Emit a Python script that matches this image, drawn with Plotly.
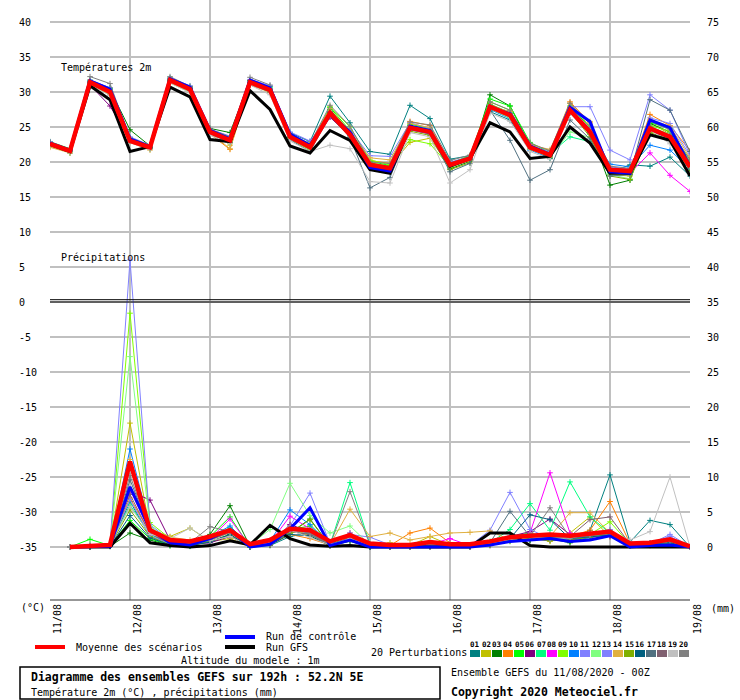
import plotly.graph_objects as go

# time axis (hours from 11/08 00Z)
hours_t = list(range(0, 193, 6))
hours_p = list(range(6, 193, 6))
day_hours = list(range(0, 193, 24))
day_labels = ["11/08", "12/08", "13/08", "14/08", "15/08", "16/08", "17/08", "18/08", "19/08"]

member_names = ["01", "02", "03", "04", "05", "06", "07", "08", "09", "10",
                "11", "12", "13", "14", "15", "16", "17", "18", "19", "20"]
member_colors = ["#008080", "#c0c000", "#008000", "#ff8000", "#00ff00", "#800080", "#00ff80",
                 "#ff00ff", "#80ff00", "#0080ff", "#8080ff", "#80ff80", "#8080ff", "#e0b040",
                 "#80b000", "#006080", "#507080", "#806070", "#c0c0c0", "#808080"]

# temperatures 2m (degC)
temp_mean = [22.6, 21.6, 31.4, 30.0, 23.0, 22.1, 31.7, 30.4, 24.3, 23.1, 31.4, 30.3, 23.6, 22.1, 27.0, 23.9,
             19.6, 19.1, 24.9, 24.3, 19.6, 20.5, 27.9, 26.7, 22.1, 21.0, 27.4, 24.3, 18.9, 18.7, 24.8, 23.6, 19.3]
temp_ctrl = [22.7, 21.7, 31.6, 30.4, 23.3, 22.2, 31.9, 30.7, 24.5, 23.3, 31.7, 30.6, 24.0, 22.4, 26.8, 24.3,
             19.2, 18.7, 25.1, 24.5, 19.5, 20.6, 27.8, 26.9, 22.3, 21.1, 27.8, 25.8, 18.6, 18.4, 26.0, 24.9, 19.4]
temp_gfs = [22.5, 21.5, 30.9, 28.9, 21.5, 22.2, 30.7, 29.3, 23.2, 22.9, 30.2, 27.5, 22.3, 21.3, 24.5, 23.1,
            18.9, 18.4, 25.0, 24.3, 19.4, 20.5, 25.6, 24.3, 20.5, 20.8, 25.0, 22.7, 18.4, 18.4, 23.9, 23.1, 18.0]
temp_members = [
    [22.8, 21.7, 31.6, 30.6, 23.5, 22.3, 31.9, 30.7, 24.6, 23.4, 31.6, 30.8, 24.2, 22.9, 29.4, 25.6,
     21.5, 21.1, 28.1, 26.2, 20.4, 20.9, 27.2, 26.0, 21.8, 21.2, 27.0, 24.0, 18.5, 19.6, 19.4, 20.7, 18.0],
    [22.4, 21.5, 31.2, 29.8, 23.2, 22.0, 31.5, 30.2, 24.6, 22.4, 31.2, 30.0, 23.4, 22.0, 26.5, 24.2,
     19.9, 19.4, 22.8, 23.4, 19.2, 20.3, 27.6, 26.4, 22.3, 21.3, 28.4, 25.0, 18.2, 18.0, 25.6, 24.0, 19.6],
    [22.7, 21.3, 31.3, 30.4, 24.6, 22.3, 31.8, 30.6, 24.8, 24.2, 31.6, 30.5, 24.0, 22.2, 27.5, 24.3,
     19.9, 19.0, 25.2, 24.6, 19.0, 20.1, 29.6, 28.0, 22.4, 20.5, 27.6, 24.6, 16.7, 17.4, 25.5, 24.3, 19.0],
    [22.2, 21.4, 31.0, 29.7, 23.1, 21.9, 31.4, 30.2, 24.0, 21.8, 31.0, 30.1, 23.8, 22.3, 27.1, 24.0,
     20.2, 19.8, 25.8, 25.2, 19.7, 20.6, 28.3, 27.0, 22.6, 21.6, 28.6, 25.6, 19.1, 18.8, 26.8, 25.2, 21.6],
    [22.9, 21.9, 31.7, 30.5, 23.4, 22.4, 32.0, 30.8, 24.5, 23.6, 31.7, 30.6, 23.8, 22.4, 27.8, 24.5,
     20.1, 19.5, 25.4, 24.8, 19.8, 20.9, 29.0, 28.0, 22.8, 21.3, 28.0, 24.9, 18.5, 18.4, 25.6, 24.8, 20.0],
    [22.8, 21.7, 31.0, 28.0, 23.2, 22.0, 31.5, 30.3, 24.0, 23.0, 31.0, 30.1, 23.5, 21.9, 26.4, 23.7,
     19.2, 18.8, 24.7, 24.1, 19.5, 20.4, 27.7, 26.5, 22.0, 20.8, 27.1, 24.3, 18.6, 18.5, 24.5, 23.3, 19.0],
    [22.5, 21.6, 31.6, 30.4, 23.3, 22.2, 31.6, 30.5, 24.4, 23.2, 31.5, 30.4, 23.7, 22.3, 27.3, 24.1,
     19.7, 19.3, 25.1, 24.5, 19.9, 20.8, 28.2, 27.1, 22.3, 21.2, 23.6, 22.9, 18.4, 18.6, 24.6, 23.8, 19.4],
    [22.6, 21.6, 31.5, 30.2, 23.1, 22.1, 31.8, 30.5, 24.2, 23.0, 31.5, 30.2, 23.5, 22.0, 26.6, 23.8,
     19.4, 19.0, 24.6, 24.0, 19.7, 20.4, 27.9, 26.8, 21.9, 20.9, 27.3, 24.2, 18.8, 18.4, 21.3, 18.1, 15.8],
    [22.3, 21.4, 31.1, 29.6, 23.0, 21.8, 31.3, 30.0, 24.2, 22.7, 31.2, 30.0, 23.3, 21.7, 27.9, 25.0,
     20.3, 19.6, 23.2, 22.6, 19.3, 20.4, 28.6, 27.4, 22.0, 20.9, 27.7, 24.5, 18.7, 18.2, 25.2, 24.4, 20.4],
    [22.7, 21.8, 31.5, 30.1, 23.0, 22.0, 31.6, 30.3, 24.3, 23.2, 31.3, 30.2, 23.6, 22.0, 26.9, 23.8,
     19.3, 18.8, 24.7, 24.2, 19.6, 20.5, 27.5, 26.2, 21.7, 20.6, 27.2, 24.2, 19.7, 19.3, 22.4, 21.7, 19.0],
    [22.9, 21.8, 31.7, 30.6, 23.6, 22.4, 32.0, 30.9, 24.7, 23.7, 31.8, 30.9, 24.3, 23.0, 26.7, 24.6,
     20.9, 20.8, 25.6, 24.8, 19.8, 20.6, 27.8, 26.6, 22.2, 21.1, 27.9, 27.9, 21.7, 20.3, 29.6, 27.4, 21.0],
    [22.4, 21.5, 31.3, 29.9, 22.9, 22.0, 31.5, 30.2, 24.1, 23.0, 31.3, 30.1, 23.4, 21.9, 26.8, 23.6,
     19.4, 18.9, 24.8, 24.2, 19.4, 20.2, 27.6, 26.3, 21.8, 20.7, 24.3, 23.5, 18.2, 17.6, 25.0, 24.0, 19.8],
    [22.6, 21.7, 31.5, 30.2, 23.2, 22.2, 31.8, 30.6, 24.4, 23.3, 31.5, 30.5, 23.8, 22.3, 27.2, 24.0,
     19.8, 19.2, 25.0, 24.4, 20.0, 20.7, 28.1, 26.9, 22.4, 21.4, 27.6, 24.8, 19.3, 19.0, 26.3, 25.5, 20.9],
    [22.1, 21.3, 31.2, 29.7, 22.8, 21.7, 31.4, 30.1, 24.2, 21.9, 31.1, 29.9, 23.9, 22.6, 27.6, 24.4,
     20.6, 20.3, 25.5, 24.9, 19.4, 20.2, 28.0, 27.2, 22.4, 21.8, 27.9, 25.8, 18.6, 18.3, 26.0, 25.1, 20.6],
    [22.5, 21.5, 31.3, 29.9, 23.0, 22.0, 31.6, 30.3, 24.3, 23.0, 31.3, 30.2, 23.5, 22.0, 26.9, 23.9,
     19.5, 19.0, 24.4, 23.8, 18.9, 19.9, 28.1, 26.9, 22.0, 20.7, 27.2, 23.6, 18.0, 17.5, 24.2, 23.2, 18.8],
    [22.6, 21.6, 31.4, 30.1, 23.1, 22.1, 31.7, 30.5, 24.4, 23.2, 31.4, 30.3, 23.6, 22.1, 27.1, 24.0,
     19.4, 19.0, 24.9, 24.4, 19.4, 20.3, 27.9, 26.8, 22.2, 21.0, 27.7, 24.5, 18.8, 18.5, 24.9, 23.7, 19.2],
    [22.5, 21.5, 31.3, 29.9, 23.0, 21.9, 31.5, 30.2, 24.0, 22.8, 31.2, 30.0, 23.2, 21.5, 26.6, 23.5,
     16.3, 17.8, 24.6, 24.0, 18.6, 19.8, 27.4, 23.1, 17.4, 18.9, 26.0, 23.3, 18.0, 18.2, 28.9, 27.4, 21.5],
    [22.7, 21.7, 31.5, 30.3, 23.2, 22.2, 31.8, 30.6, 24.5, 23.4, 31.6, 30.4, 23.7, 22.2, 27.2, 24.0,
     19.6, 19.2, 25.0, 24.3, 19.9, 20.6, 28.0, 26.8, 22.2, 21.1, 27.6, 24.6, 19.1, 18.9, 25.1, 23.8, 19.6],
    [22.3, 21.4, 31.1, 29.5, 22.8, 21.8, 31.3, 29.9, 23.8, 22.6, 31.0, 29.6, 23.0, 21.5, 22.4, 21.9,
     17.2, 17.0, 24.2, 23.6, 17.0, 18.9, 27.0, 25.8, 21.5, 20.4, 27.0, 24.5, 18.8, 19.0, 24.6, 22.6, 19.3],
    [22.8, 21.8, 32.2, 31.2, 23.4, 22.4, 32.2, 30.8, 24.7, 23.6, 32.1, 31.0, 23.9, 22.6, 28.1, 25.1,
     20.0, 19.8, 25.7, 25.3, 20.2, 21.0, 28.6, 27.4, 22.7, 21.6, 28.4, 25.4, 19.4, 19.1, 25.8, 24.6, 20.3],
]

# precipitation per 6h (mm)
precip_mean = [0.0, 0.2, 0.3, 12.2, 2.4, 1.0, 0.8, 1.5, 2.4, 0.4, 1.0, 2.6, 2.4, 0.8, 1.7, 0.5,
               0.3, 0.3, 0.7, 0.4, 0.4, 0.8, 1.4, 1.6, 1.8, 1.6, 1.9, 2.2, 0.5, 0.6, 1.1, 0.1]
precip_ctrl = [0, 0, 0.1, 8.6, 2.5, 0.6, 0.3, 1.2, 2.5, 0, 0.4, 2.6, 5.6, 0.2, 1.0, 0,
               0, 0, 0, 0, 0, 0.3, 0.8, 1.0, 1.2, 0.8, 1.0, 1.6, 0, 0.2, 0.3, 0]
precip_gfs = [0, 0, 0, 3.4, 0.6, 0.2, 0, 0.2, 0.9, 0.3, 3.1, 1.2, 0.3, 0.1, 0.2, 0,
              0, 0, 0, 0, 0, 2.0, 2.0, 0.2, 0, 0, 0, 0, 0, 0, 0, 0]
precip_members = [
    [0, 0, 0.1, 6.5, 1.5, 0.3, 0.2, 0.8, 1.8, 0, 0.2, 1.5, 2.0, 0.3, 1.0, 0,
     0, 0, 0.3, 0.2, 0, 0.5, 1.2, 1.0, 1.5, 0.8, 2.4, 10.3, 0.7, 3.8, 3.2, 0],
    [0, 0.2, 0.3, 17.7, 2.5, 1.5, 2.7, 0.8, 1.2, 0, 0.3, 3.0, 1.5, 0.2, 1.5, 0.3,
     0.6, 0.2, 1.5, 0.3, 0.2, 0.3, 1.0, 1.4, 0.8, 2.0, 4.3, 1.5, 0.2, 0.3, 0.6, 0],
    [0, 0, 0.1, 2.0, 1.0, 0.2, 0.3, 1.8, 5.9, 0.1, 0.5, 2.0, 4.0, 0.2, 0.8, 0,
     0, 0, 0.2, 0, 0, 0.3, 0.8, 1.0, 1.2, 0.6, 1.5, 1.8, 0.2, 0.4, 0.7, 0],
    [0, 0.3, 0.2, 7.0, 2.0, 0.5, 0.5, 1.0, 2.5, 0.2, 0.3, 1.8, 1.2, 0.3, 1.0, 0.1,
     0.2, 2.0, 2.7, 0.6, 0.1, 0.4, 1.2, 1.8, 1.0, 1.5, 2.4, 6.5, 0.5, 0.2, 0.4, 0],
    [0, 1.1, 0.2, 3.8, 1.2, 0.2, 0.1, 1.5, 4.3, 0, 0.4, 2.5, 3.0, 0.5, 1.2, 0.1,
     0, 0, 0, 0.2, 0, 0.8, 1.5, 2.0, 1.3, 0.9, 1.6, 2.4, 0.3, 0.5, 0.8, 0],
    [0, 0, 0.1, 8.0, 6.7, 1.0, 0.4, 0.6, 1.5, 0.2, 0.4, 3.2, 2.2, 0.4, 2.0, 0.2,
     0, 0, 0, 0.1, 0, 0.2, 1.5, 2.2, 4.0, 1.8, 2.0, 1.5, 0.4, 0.3, 0.6, 0],
    [0, 0, 0.2, 6.0, 1.8, 0.4, 0.2, 0.9, 2.8, 0, 0.6, 2.2, 1.8, 0.3, 9.2, 0.4,
     0.1, 0, 0.3, 0.2, 0, 0.6, 2.5, 6.2, 2.4, 9.3, 4.3, 2.0, 0.2, 0.4, 0.5, 0],
    [0, 0.1, 0.2, 8.2, 2.2, 0.5, 0.4, 1.2, 4.0, 0.1, 0.6, 4.4, 2.6, 0.2, 1.4, 0.2,
     0.1, 0, 0.4, 1.2, 0.2, 0.5, 1.0, 2.0, 10.6, 2.0, 1.4, 1.6, 0.3, 0.5, 0.8, 0],
    [0, 0.2, 0.3, 33.4, 3.5, 1.2, 0.5, 1.1, 2.6, 0.2, 0.4, 2.0, 2.5, 0.3, 1.3, 0.1,
     0, 0, 0.5, 0.3, 0.1, 0.4, 1.3, 1.8, 1.5, 1.2, 1.8, 3.6, 0.4, 0.5, 0.9, 0],
    [0, 0.1, 0.3, 14.0, 2.8, 0.8, 0.3, 1.4, 3.0, 0.1, 0.8, 5.3, 3.2, 0.4, 1.1, 0.1,
     0, 0, 0.2, 0.2, 0, 0.5, 1.4, 1.5, 1.1, 1.0, 1.3, 2.0, 0.3, 0.4, 0.7, 0],
    [0, 0.3, 0.4, 41.0, 3.2, 1.0, 0.5, 1.3, 2.4, 0.2, 0.7, 3.0, 7.7, 0.5, 1.8, 1.4,
     0.3, 0.1, 0.4, 0.3, 0.2, 2.4, 7.8, 2.5, 1.2, 1.4, 1.8, 2.0, 0.4, 0.6, 1.5, 0],
    [0, 0.2, 0.3, 27.2, 3.0, 0.9, 0.4, 1.0, 2.2, 0.3, 2.5, 9.1, 4.5, 2.0, 3.0, 0.3,
     0.1, 0, 0.3, 0.4, 0.2, 0.3, 1.0, 1.6, 1.4, 1.2, 1.5, 1.7, 0.2, 0.3, 0.6, 0],
    [0, 0.1, 0.2, 6.8, 1.6, 0.5, 0.3, 1.3, 2.0, 0.1, 0.5, 2.4, 2.0, 0.3, 1.0, 0.2,
     0, 0, 0.2, 0.1, 0, 0.5, 1.6, 1.3, 1.0, 1.1, 1.5, 2.5, 0.5, 0.4, 1.8, 0],
    [0, 0.1, 0.3, 12.5, 2.6, 1.4, 1.0, 1.0, 2.0, 0.1, 0.4, 2.8, 1.6, 0.3, 5.4, 1.5,
     2.0, 1.0, 1.5, 2.0, 2.1, 2.3, 1.0, 1.3, 1.5, 4.9, 4.9, 2.0, 0.3, 0.4, 0.7, 0],
    [0, 0, 0.2, 5.3, 1.5, 0.3, 0.2, 0.8, 1.6, 0, 0.3, 2.0, 3.9, 0.2, 1.0, 0.1,
     0, 0, 0.2, 0.1, 0, 0.3, 1.0, 1.2, 0.9, 1.0, 1.4, 1.8, 0.2, 0.3, 0.5, 0],
    [0, 0, 0.1, 4.5, 1.3, 0.3, 0.2, 0.7, 1.8, 0, 0.3, 1.8, 1.6, 0.2, 0.9, 0,
     0, 0, 0.1, 0.1, 0, 0.4, 1.2, 4.6, 3.9, 1.2, 1.5, 1.7, 0.3, 0.4, 0.6, 0],
    [0, 0.1, 0.2, 9.6, 2.4, 0.6, 0.3, 1.1, 2.3, 0.1, 0.4, 2.6, 2.0, 0.3, 1.3, 0.2,
     0, 0, 0.3, 0.2, 0, 0.6, 5.1, 1.5, 1.3, 1.2, 1.6, 2.0, 0.3, 0.5, 0.8, 0],
    [0, 0.1, 0.2, 7.5, 1.9, 0.5, 0.3, 1.0, 2.1, 0.1, 0.3, 2.2, 1.8, 0.3, 1.2, 0.1,
     0, 0, 0.2, 0.1, 0, 0.4, 1.3, 1.6, 1.4, 1.5, 3.9, 4.3, 0.4, 0.5, 0.9, 0],
    [0, 0.2, 0.3, 5.8, 1.8, 1.2, 2.7, 0.9, 1.5, 0.1, 1.0, 2.4, 1.4, 0.3, 1.2, 0.2,
     0.1, 0, 0.2, 0.1, 0, 0.5, 1.1, 1.4, 1.2, 1.3, 1.8, 2.0, 1.0, 2.2, 10.0, 0],
    [0, 0.2, 0.3, 10.2, 2.5, 0.8, 0.6, 2.9, 2.2, 0.1, 0.4, 2.5, 2.0, 0.3, 7.9, 0.3,
     0, 0, 0.3, 0.2, 0, 0.5, 1.3, 1.5, 5.6, 1.4, 1.6, 1.9, 0.3, 0.5, 0.8, 0],
]

FONT = "DejaVu Sans Mono"
W, H = 740, 700
L, R, T, B = 50, 690, 0, 600  # plot area in pixels


def px(x):
    return (x - L) / (R - L)


def py(y):
    return (B - y) / (B - T)


fig = go.Figure()

# perturbations: temperatures (left axis) and precipitation (right axis)
for i in range(20):
    c = member_colors[i]
    fig.add_trace(go.Scatter(x=hours_t, y=temp_members[i], mode="lines+markers",
                             line=dict(color=c, width=1),
                             marker=dict(symbol="cross-thin", size=4, line=dict(width=1, color=c))))
    fig.add_trace(go.Scatter(x=hours_p, y=precip_members[i], yaxis="y2", mode="lines+markers",
                             line=dict(color=c, width=1),
                             marker=dict(symbol="cross-thin", size=4, line=dict(width=1, color=c))))

# GFS, control run, mean
for ys_t, ys_p, c, w in [(temp_gfs, precip_gfs, "#000000", 3),
                         (temp_ctrl, precip_ctrl, "#0000ff", 3),
                         (temp_mean, precip_mean, "#ff0000", 4.5)]:
    fig.add_trace(go.Scatter(x=hours_t, y=ys_t, mode="lines", line=dict(color=c, width=w)))
    fig.add_trace(go.Scatter(x=hours_p, y=ys_p, yaxis="y2", mode="lines", line=dict(color=c, width=w)))

t_lo, t_hi = (302 - 600) / 7, 302 / 7
left_ticks = list(range(-35, 41, 5))
right_ticks = list(range(0, 76, 5))
nb = "\u00a0"

fig.update_layout(
    width=W, height=H,
    margin=dict(l=L, r=W - R, t=T, b=H - B),
    paper_bgcolor="white", plot_bgcolor="white",
    showlegend=False,
    font=dict(family=FONT, size=10, color="black"),
    xaxis=dict(range=[0, 192], tickvals=day_hours, showticklabels=False, ticks="",
               showgrid=True, gridcolor="#c0c0c0", gridwidth=1.5, zeroline=False),
    yaxis=dict(range=[t_lo, t_hi], tickvals=left_ticks,
               ticktext=[(str(v) + nb * 3)[:3] for v in left_ticks],
               ticks="", ticklabelstandoff=12, showgrid=True, gridcolor="#c0c0c0",
               gridwidth=1.5, zeroline=False, tickfont=dict(family=FONT, size=10)),
    yaxis2=dict(range=[t_lo + 35, t_hi + 35], tickvals=right_ticks, overlaying="y", side="right",
                ticks="", ticklabelstandoff=16, showgrid=False, zeroline=False,
                tickfont=dict(family=FONT, size=10)),
)

shapes = [
    dict(type="line", xref="paper", yref="y", x0=0, x1=1, y0=0, y1=0, line=dict(color="black", width=1)),
    dict(type="line", xref="paper", yref="y", x0=0, x1=1, y0=0.33, y1=0.33, line=dict(color="black", width=1)),
    dict(type="line", xref="paper", yref="paper", x0=0, x1=1, y0=0, y1=0, line=dict(color="#303030", width=1)),
    # legend samples
    dict(type="line", xref="paper", yref="paper", x0=px(35), x1=px(65), y0=py(647), y1=py(647),
         line=dict(color="#ff0000", width=4)),
    dict(type="line", xref="paper", yref="paper", x0=px(225), x1=px(255), y0=py(637), y1=py(637),
         line=dict(color="#0000ff", width=4)),
    dict(type="line", xref="paper", yref="paper", x0=px(225), x1=px(255), y0=py(647), y1=py(647),
         line=dict(color="#000000", width=4)),
    dict(type="rect", xref="paper", yref="paper", x0=px(20), x1=px(440), y0=py(667), y1=py(699),
         line=dict(color="black", width=1.5)),
]
for i, c in enumerate(member_colors):
    x0 = 470 + 11 * i
    shapes.append(dict(type="rect", xref="paper", yref="paper", x0=px(x0), x1=px(x0 + 10),
                       y0=py(657), y1=py(650), fillcolor=c, line=dict(width=0)))
fig.update_layout(shapes=shapes)


def txt(x, y, s, size=10, anchor="left", bold=False):
    if bold:
        s = "<b>" + s + "</b>"
    fig.add_annotation(x=px(x), y=py(y), xref="paper", yref="paper", text=s, showarrow=False,
                       xanchor=anchor, yanchor="middle", font=dict(family=FONT, size=size, color="black"))


txt(59, 67, "Températures 2m")
txt(59, 257, "Précipitations")
txt(19, 607, "(°C)")
txt(709, 608, "(mm)")
txt(74, 647, "Moyenne des scénarios")
txt(264, 636, "Run de contrôle")
txt(264, 647, "Run GFS")
txt(179, 660, "Altitude du modele : 1m")
txt(29, 677, "Diagramme des ensembles GEFS sur 192h : 52.2N 5E", size=11.5, bold=True)
txt(29, 692, "Température 2m (°C) , précipitations (mm)")
txt(369, 652, "20 Perturbations")
txt(449, 672, "Ensemble GEFS du 11/08/2020 - 00Z")
txt(449, 692, "Copyright 2020 Meteociel.fr", size=11.5, bold=True)
for i, n in enumerate(member_names):
    txt(470 + 11 * i + 5, 644, n, size=7.5, anchor="center", bold=True)

for h, lab in zip(day_hours, day_labels):
    fig.add_annotation(x=h, y=0, xref="x", yref="paper", text=lab, textangle=-90, showarrow=False,
                       xanchor="center", yanchor="top", xshift=7, yshift=-2,
                       font=dict(family=FONT, size=10, color="black"))

# the page's default body margin would shift the figure by 8px
fig.write_html("out.html", config={"displayModeBar": False},
               post_script="document.body.style.margin='0';")
